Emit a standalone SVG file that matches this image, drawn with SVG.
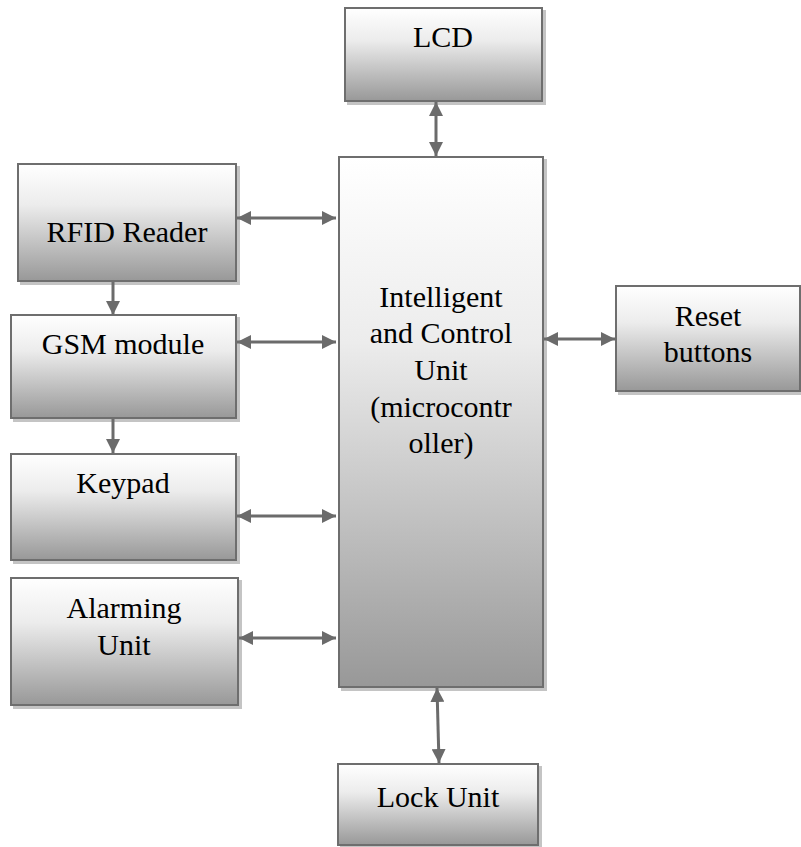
<svg xmlns="http://www.w3.org/2000/svg" width="801" height="847" viewBox="0 0 801 847">
<defs>
<linearGradient id="g" x1="0" y1="0" x2="0" y2="1">
<stop offset="0" stop-color="#ffffff"/>
<stop offset="0.35" stop-color="#ececec"/>
<stop offset="1" stop-color="#989898"/>
</linearGradient>
<marker id="ah" viewBox="0 0 14 14" refX="14" refY="7" markerWidth="14" markerHeight="14" markerUnits="userSpaceOnUse" orient="auto-start-reverse">
<path d="M0,0 L14,7 L0,14 Z" fill="#6b6b6b"/>
</marker>
<filter id="sh" x="-5%" y="-5%" width="115%" height="115%">
<feOffset dx="3" dy="3" in="SourceAlpha" result="o"/>
<feFlood flood-color="#c4c4c4"/>
<feComposite in2="o" operator="in" result="s"/>
<feMerge><feMergeNode in="s"/><feMergeNode in="SourceGraphic"/></feMerge>
</filter>
</defs>
<style>
.box{fill:url(#g);stroke:#6e6e6e;stroke-width:2;filter:url(#sh)}
text{fill:#000;text-anchor:middle}
.c{stroke:#6b6b6b;stroke-width:3;fill:none}
</style>
<g font-family="Liberation Serif, Times New Roman, serif" font-size="30">
<g id="lcd"><rect class="box" x="345" y="8" width="197" height="93"/><text x="443" y="47">LCD</text></g>
<g id="mcu"><rect class="box" x="339" y="157" width="204" height="530"/>
<text x="441" y="307">Intelligent</text>
<text x="441" y="343">and Control</text>
<text x="441" y="380">Unit</text>
<text x="441" y="417">(microcontr</text>
<text x="441" y="453">oller)</text></g>
<g id="rfid"><rect class="box" x="18" y="164" width="218" height="117"/><text x="127" y="242">RFID Reader</text></g>
<g id="gsm"><rect class="box" x="11" y="315" width="225" height="103"/><text x="123" y="354">GSM module</text></g>
<g id="keypad"><rect class="box" x="11" y="454" width="225" height="106"/><text x="123" y="493">Keypad</text></g>
<g id="alarm"><rect class="box" x="11" y="578" width="227" height="127"/><text x="124" y="618">Alarming</text><text x="124" y="655">Unit</text></g>
<g id="reset"><rect class="box" x="616" y="286" width="184" height="105"/><text x="708" y="326">Reset</text><text x="708" y="362">buttons</text></g>
<g id="lock"><rect class="box" x="338" y="764" width="200" height="81"/><text x="438" y="807">Lock Unit</text></g>
</g>
<g id="connectors">
<line class="c" x1="436" y1="102" x2="436" y2="156" marker-start="url(#ah)" marker-end="url(#ah)"/>
<line class="c" x1="237" y1="218" x2="336" y2="218" marker-start="url(#ah)" marker-end="url(#ah)"/>
<line class="c" x1="237" y1="342" x2="336" y2="342" marker-start="url(#ah)" marker-end="url(#ah)"/>
<line class="c" x1="237" y1="516" x2="336" y2="516" marker-start="url(#ah)" marker-end="url(#ah)"/>
<line class="c" x1="239" y1="638" x2="336" y2="638" marker-start="url(#ah)" marker-end="url(#ah)"/>
<line class="c" x1="544" y1="339" x2="615" y2="339" marker-start="url(#ah)" marker-end="url(#ah)"/>
<line class="c" x1="437" y1="688" x2="439" y2="763" marker-start="url(#ah)" marker-end="url(#ah)"/>
<line class="c" x1="113" y1="282" x2="113" y2="315" marker-end="url(#ah)"/>
<line class="c" x1="113" y1="419" x2="113" y2="453" marker-end="url(#ah)"/>
</g>
</svg>
